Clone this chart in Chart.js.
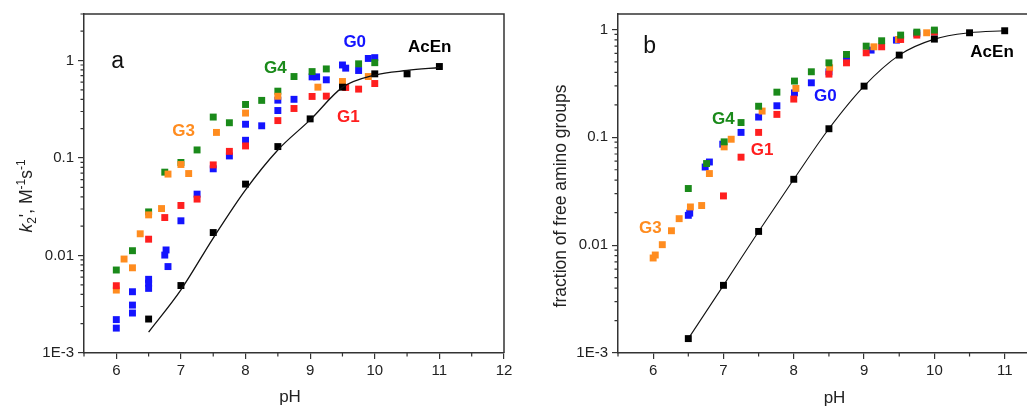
<!DOCTYPE html>
<html><head><meta charset="utf-8">
<script src="https://cdn.jsdelivr.net/npm/chart.js@4.4.0/dist/chart.umd.min.js"></script>
<style>
html,body{margin:0;padding:0;background:#fff;overflow:hidden;width:1027px;height:407px;position:relative;}
#ca{position:absolute;left:0;top:0;}
#cb{position:absolute;left:510px;top:0;}
</style></head><body>
<canvas id="ca" width="520" height="407"></canvas>
<canvas id="cb" width="600" height="407"></canvas>
<script>
// ---------- tick labels ----------
const xTicks = [6, 7, 8, 9, 10, 11, 12];
const yTicks = [0.001, 0.01, 0.1, 1];
const yTickLabels = ['1E-3', '0.01', '0.1', '1'];

// ---------- panel a : k2' (M^-1 s^-1) ----------
const a_G4_pH = [6, 6.25, 6.5, 6.75, 7, 7.25, 7.5, 7.75, 8, 8.25, 8.5, 8.75, 9.03, 9.25, 9.75, 10];
const a_G4_k  = [0.0071, 0.0112, 0.028, 0.0716, 0.09, 0.121, 0.263, 0.23, 0.354, 0.39, 0.485, 0.685, 0.77, 0.82, 0.925, 0.95];

const a_G0_pH = [6, 6, 6.25, 6.25, 6.25, 6.5, 6.5, 6.5, 6.77, 6.75, 6.8, 7, 7.25, 7.5, 7.75, 8, 8, 8.25, 8.5, 8.5, 8.75, 9.03, 9.1, 9.25, 9.5, 9.55, 9.75, 9.9, 10];
const a_G0_k  = [0.0022, 0.0018, 0.00425, 0.0031, 0.00257, 0.0057, 0.0052, 0.0046, 0.0114, 0.0101, 0.0077, 0.0227, 0.0426, 0.0775, 0.105, 0.152, 0.222, 0.214, 0.307, 0.392, 0.40, 0.68, 0.68, 0.634, 0.90, 0.835, 0.79, 1.05, 1.07];

const a_G1_pH = [6, 6.5, 6.75, 7, 7.25, 7.5, 7.75, 8, 8.5, 8.75, 9.03, 9.25, 9.55, 9.75, 10];
const a_G1_k  = [0.0049, 0.0147, 0.0245, 0.0326, 0.0379, 0.085, 0.117, 0.133, 0.242, 0.322, 0.428, 0.431, 0.529, 0.509, 0.581];

const a_G3_pH = [6, 6.12, 6.25, 6.37, 6.5, 6.7, 6.8, 7, 7.12, 7.55, 8, 8.5, 9.12, 9.5, 9.9];
const a_G3_k  = [0.00442, 0.0092, 0.00748, 0.0167, 0.0261, 0.0303, 0.0684, 0.0858, 0.0693, 0.183, 0.289, 0.43, 0.533, 0.609, 0.685];

const a_AcEn_pH = [6.5, 7, 7.5, 8, 8.5, 9, 9.5, 10, 10.5, 11];
const a_AcEn_k  = [0.00223, 0.00492, 0.0172, 0.054, 0.131, 0.252, 0.533, 0.73, 0.73, 0.868];

const a_fit_pH = [6.5, 7, 7.5, 8, 8.5, 9, 9.5, 10, 10.5, 11];
const a_fit_k  = [0.00164, 0.00445, 0.0151, 0.0472, 0.121, 0.246, 0.53, 0.708, 0.79, 0.848];

// ---------- panel b : fraction of free amino groups ----------
const b_G4_pH = [6.5, 6.76, 7.01, 7.25, 7.5, 7.76, 8.01, 8.25, 8.5, 8.75, 9.03, 9.25, 9.52, 9.75, 10];
const b_G4_f  = [0.0335, 0.0571, 0.0907, 0.137, 0.194, 0.262, 0.332, 0.405, 0.49, 0.586, 0.70, 0.785, 0.886, 0.944, 0.986];

const b_G0_pH = [6.5, 6.52, 6.74, 6.8, 6.99, 7.25, 7.5, 7.76, 8.01, 8.25, 8.5, 8.75, 9.1, 9.46, 9.75, 10];
const b_G0_f  = [0.0189, 0.0198, 0.053, 0.059, 0.0863, 0.111, 0.154, 0.196, 0.258, 0.32, 0.405, 0.531, 0.643, 0.796, 0.918, 0.95];

const b_G1_pH = [7, 7.25, 7.5, 7.76, 8, 8.5, 8.75, 9.03, 9.25, 9.52, 9.75, 10];
const b_G1_f  = [0.0286, 0.0654, 0.111, 0.163, 0.226, 0.385, 0.49, 0.607, 0.69, 0.807, 0.886, 0.944];

const b_G3_pH = [6, 6.03, 6.13, 6.26, 6.37, 6.53, 6.69, 6.8, 7.01, 7.11, 7.55, 8.03, 8.51, 9.14, 9.49, 9.89];
const b_G3_f  = [0.0076, 0.0081, 0.0101, 0.0136, 0.0176, 0.0226, 0.0233, 0.0461, 0.0815, 0.0959, 0.175, 0.284, 0.441, 0.69, 0.807, 0.931];

const b_AcEn_pH = [6.5, 7, 7.5, 8, 8.5, 9, 9.5, 10, 10.5, 11];
const b_AcEn_f  = [0.00136, 0.00424, 0.0134, 0.0408, 0.12, 0.298, 0.578, 0.813, 0.931, 0.972];

// ---------- annotation labels (data coordinates) ----------
const a_labels = [
  {t: 'a',    x: 6.02,  y: 0.97, c: '#111', f: '23px "Liberation Sans", Arial'},
  {t: 'G4',   x: 8.46,  y: 0.84, c: '#1a8a1a'},
  {t: 'G3',   x: 7.04,  y: 0.19, c: '#ff8c1f'},
  {t: 'G0',   x: 9.69,  y: 1.52, c: '#1414ff'},
  {t: 'AcEn', x: 10.85, y: 1.38, c: '#000'},
  {t: 'G1',   x: 9.59,  y: 0.264, c: '#ff1f1f'}
];
const b_labels = [
  {t: 'b',    x: 5.95,  y: 0.69, c: '#111', f: '23px "Liberation Sans", Arial'},
  {t: 'G4',   x: 7.0,   y: 0.146, c: '#1a8a1a'},
  {t: 'G1',   x: 7.55,  y: 0.076, c: '#ff1f1f'},
  {t: 'G0',   x: 8.45,  y: 0.242, c: '#1414ff'},
  {t: 'G3',   x: 5.96,  y: 0.0144, c: '#ff8c1f'},
  {t: 'AcEn', x: 10.82, y: 0.62, c: '#000'}
];

const COL = {G4: '#1a8a1a', G0: '#1414ff', G1: '#ff1f1f', G3: '#ff8c1f', AcEn: '#000000'};
const FONT = '"Liberation Sans", Arial, sans-serif';

function zip(xs, ys) { return xs.map((x, i) => ({x: x, y: ys[i]})); }

function pts(label, xs, ys, color, order) {
  return {label, data: zip(xs, ys), showLine: false, pointStyle: 'rect',
    pointRadius: 4.9, pointHoverRadius: 4.9, backgroundColor: color, borderWidth: 0, order};
}
function line(label, xs, ys, order, width) {
  return {label, data: zip(xs, ys), showLine: true, pointRadius: 0, pointHoverRadius: 0,
    borderColor: '#111', borderWidth: width, cubicInterpolationMode: 'monotone', fill: false, order};
}

function decor(opts) {
  return {
    id: 'decor',
    afterDraw(chart) {
      const ctx = chart.ctx, ca = chart.chartArea, xs = chart.scales.x, ys = chart.scales.y;
      ctx.save();
      // frame top & right
      ctx.strokeStyle = '#333'; ctx.lineWidth = 1.5;
      ctx.beginPath();
      ctx.moveTo(ca.left, ca.top); ctx.lineTo(ca.right, ca.top); ctx.lineTo(ca.right, ca.bottom);
      ctx.stroke();
      // minor ticks
      ctx.lineWidth = 1.2; ctx.beginPath();
      for (let v = 5.5; v <= 12; v += 1) {
        const px = xs.getPixelForValue(v);
        ctx.moveTo(px, ca.bottom); ctx.lineTo(px, ca.bottom + 3.5);
      }
      for (const d of [0.001, 0.01, 0.1, 1]) {
        for (let m = 2; m <= 9; m++) {
          const v = d * m;
          if (v > ys.max) continue;
          const py = ys.getPixelForValue(v);
          ctx.moveTo(ca.left, py); ctx.lineTo(ca.left - 3.5, py);
        }
      }
      ctx.stroke();
      // labels
      ctx.textAlign = 'center'; ctx.textBaseline = 'middle';
      for (const L of opts.labels) {
        ctx.fillStyle = L.c;
        ctx.font = L.f || ('bold 17px ' + FONT);
        ctx.fillText(L.t, xs.getPixelForValue(L.x), ys.getPixelForValue(L.y));
      }
      // x title
      ctx.fillStyle = '#222';
      ctx.font = '17px ' + FONT;
      ctx.fillText('pH', (ca.left + ca.right) / 2 + opts.xTitleShift, opts.xTitleY);
      // y title
      ctx.translate(opts.yTitleX, opts.yTitleY);
      ctx.rotate(-Math.PI / 2);
      ctx.textAlign = 'left'; ctx.textBaseline = 'alphabetic';
      let total = 0;
      for (const p of opts.yTitle) { ctx.font = p.f; total += ctx.measureText(p.t).width; }
      let cx = -total / 2;
      for (const p of opts.yTitle) {
        ctx.font = p.f;
        ctx.fillText(p.t, cx, 6 + (p.dy || 0));
        cx += ctx.measureText(p.t).width;
      }
      ctx.restore();
    }
  };
}

function makeOptions(yMax, yWidth, rightPad) {
  return {
    responsive: false, animation: false, devicePixelRatio: 1,
    layout: {padding: {left: 0, top: 14, right: rightPad, bottom: 0}},
    plugins: {legend: {display: false}, tooltip: {enabled: false}},
    scales: {
      x: {type: 'linear', min: 5.5, max: 12,
        afterBuildTicks: s => { s.ticks = xTicks.map(v => ({value: v})); },
        afterFit: s => { s.height = 54; },
        grid: {display: true, drawOnChartArea: false, drawTicks: true, tickLength: 6, color: '#333', lineWidth: 1.2},
        border: {display: true, color: '#333', width: 1.5},
        ticks: {color: '#222', font: {family: FONT, size: 15}, padding: 3, maxRotation: 0, callback: v => String(v)}
      },
      y: {type: 'logarithmic', min: 0.001, max: yMax,
        afterBuildTicks: s => { s.ticks = yTicks.map(v => ({value: v})); },
        afterFit: s => { s.width = yWidth; },
        grid: {display: true, drawOnChartArea: false, drawTicks: true, tickLength: 6, color: '#333', lineWidth: 1.2},
        border: {display: true, color: '#333', width: 1.5},
        ticks: {color: '#222', font: {family: FONT, size: 15}, padding: 4,
          callback: v => { const i = yTicks.findIndex(t => Math.abs(t - v) / t < 1e-6); return i >= 0 ? yTickLabels[i] : ''; }}
      }
    }
  };
}

new Chart(document.getElementById('ca'), {
  type: 'scatter',
  data: {datasets: [
    line('fit', a_fit_pH, a_fit_k, 0, 1.3),
    pts('AcEn', a_AcEn_pH, a_AcEn_k, COL.AcEn, 1),
    pts('G1', a_G1_pH, a_G1_k, COL.G1, 2),
    pts('G3', a_G3_pH, a_G3_k, COL.G3, 3),
    pts('G4', a_G4_pH, a_G4_k, COL.G4, 4),
    pts('G0', a_G0_pH, a_G0_k, COL.G0, 5)
  ]},
  options: makeOptions(3, 84, 16),
  plugins: [decor({labels: a_labels, xTitleShift: -4, xTitleY: 397, yTitleX: 26, yTitleY: 196,
    yTitle: [
      {t: 'k', f: 'italic 17.5px ' + FONT},
      {t: '2', f: '12px ' + FONT, dy: 4},
      {t: "', M", f: '17.5px ' + FONT},
      {t: '-1', f: '12px ' + FONT, dy: -7},
      {t: 's', f: '17.5px ' + FONT},
      {t: '-1', f: '12px ' + FONT, dy: -7}
    ]})]
});

new Chart(document.getElementById('cb'), {
  type: 'scatter',
  data: {datasets: [
    pts('AcEn', b_AcEn_pH, b_AcEn_f, COL.AcEn, 0),
    line('fit', b_AcEn_pH, b_AcEn_f, 1, 1.1),
    pts('G4', b_G4_pH, b_G4_f, COL.G4, 2),
    pts('G1', b_G1_pH, b_G1_f, COL.G1, 3),
    pts('G3', b_G3_pH, b_G3_f, COL.G3, 4),
    pts('G0', b_G0_pH, b_G0_f, COL.G0, 5)
  ]},
  options: makeOptions(1.39, 108, 35),
  plugins: [decor({labels: b_labels, xTitleShift: -12, xTitleY: 398, yTitleX: 50, yTitleY: 196,
    yTitle: [{t: 'fraction of free amino groups', f: '17.5px ' + FONT}]})]
});
</script>
</body></html>
